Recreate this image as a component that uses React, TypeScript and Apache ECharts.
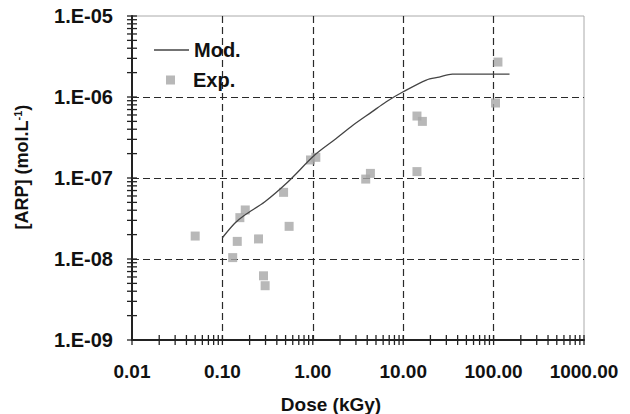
import React, { useEffect, useRef } from 'react';
import * as echarts from 'echarts';

// Model curve (Mod.)
const modDose = [0.1, 0.137, 0.177, 0.295, 0.533, 1.05, 1.8, 2.8, 4.5, 6.5, 10, 18, 25, 35, 150];
const modArp = [1.83e-8, 2.76e-8, 3.49e-8, 5.1e-8, 9.0e-8, 1.92e-7, 3.05e-7, 4.51e-7, 6.55e-7, 8.75e-7, 1.16e-6, 1.62e-6, 1.76e-6, 1.92e-6, 1.92e-6];

// Experimental points (Exp.)
const expDose = [0.05, 0.13, 0.146, 0.156, 0.179, 0.251, 0.285, 0.297, 0.475, 0.547, 0.943, 1.08, 3.85, 4.34, 14.2, 14.2, 16.3, 105, 111.7];
const expArp = [1.92e-8, 1.04e-8, 1.65e-8, 3.24e-8, 4.03e-8, 1.77e-8, 6.2e-9, 4.68e-9, 6.65e-8, 2.53e-8, 1.67e-7, 1.8e-7, 9.7e-8, 1.14e-7, 1.2e-7, 5.82e-7, 5.0e-7, 8.43e-7, 2.7e-6];

// Axis decades and minor tick multipliers
const xDecades = [0.01, 0.1, 1, 10, 100, 1000];
const yDecades = [1e-9, 1e-8, 1e-7, 1e-6, 1e-5];
const minorSteps = [2, 3, 4, 5, 6, 7, 8, 9];

const FONT = '"Liberation Sans", Arial, sans-serif';

function tickValues(decades: number[]) {
  const out: number[] = [];
  decades.forEach((d, i) => {
    out.push(d);
    if (i < decades.length - 1) minorSteps.forEach((m) => out.push(m * d));
  });
  return out;
}

export default function App() {
  const ref = useRef<HTMLDivElement>(null);
  useEffect(() => {
    document.body.style.margin = '0';
    const chart = echarts.init(ref.current!, null, { renderer: 'svg' });
    const xMin = xDecades[0];
    const yMin = yDecades[0];
    const xTicks = tickValues(xDecades);
    const yTicks = tickValues(yDecades);
    const axisLabel = { fontFamily: FONT, fontWeight: 'bold', fontSize: 19, color: '#111' };
    const splitLine = {
      show: true,
      showMinLine: false,
      showMaxLine: false,
      lineStyle: { color: '#2a2a2a', type: [7, 4], width: 1.2 },
    };
    const legendText = { fontFamily: FONT, fontWeight: 'bold', fontSize: 20, color: '#111' };
    chart.setOption({
      animation: false,
      grid: { left: 132, right: 46, top: 16, bottom: 74, show: true, borderColor: '#aaa', borderWidth: 1, backgroundColor: 'transparent' },
      legend: [
        {
          data: [{ name: 'Mod.', icon: 'rect', itemStyle: { color: '#444' } }],
          left: 149, top: 35, itemWidth: 35, itemHeight: 1.6,
          textStyle: legendText,
        },
        {
          data: [{ name: 'Exp.', icon: 'rect' }],
          left: 161, top: 65, itemWidth: 9, itemHeight: 9,
          textStyle: { ...legendText, padding: [0, 0, 0, 13] },
        },
      ],
      xAxis: {
        type: 'log', logBase: 10, min: xDecades[0], max: xDecades[xDecades.length - 1],
        axisLine: { lineStyle: { color: '#222', width: 2 } },
        axisTick: { show: false },
        minorTick: { show: false },
        axisLabel: { ...axisLabel, margin: 22, formatter: (v: number) => v.toFixed(2) },
        splitLine,
      },
      yAxis: {
        type: 'log', logBase: 10, min: yDecades[0], max: yDecades[yDecades.length - 1],
        axisLine: { show: true, lineStyle: { color: '#222', width: 2 } },
        axisTick: { show: false },
        minorTick: { show: false },
        axisLabel: {
          ...axisLabel, fontSize: 20, margin: 19,
          formatter: (v: number) => {
            const e = Math.round(Math.log10(v));
            return '1.E-' + String(-e).padStart(2, '0');
          },
        },
        splitLine,
      },
      graphic: [
        {
          type: 'text', x: 331, y: 404,
          style: { text: 'Dose (kGy)', fontFamily: FONT, fontWeight: 'bold', fontSize: 19, fill: '#111', align: 'center', verticalAlign: 'middle' },
        },
        {
          type: 'text', x: 22, y: 167, rotation: Math.PI / 2,
          style: {
            text: '[ARP] (mol.L{sup|-1})',
            fontFamily: FONT, fontWeight: 'bold', fontSize: 18, fill: '#111', align: 'center', verticalAlign: 'middle',
            rich: { sup: { fontFamily: FONT, fontWeight: 'bold', fontSize: 11, fill: '#111', verticalAlign: 'top', padding: [0, 0, 8, 0] } },
          },
        },
      ],
      series: [
        {
          name: 'Mod.', type: 'line', symbol: 'none', z: 4, smooth: 0.3,
          data: modDose.map((d, i) => [d, modArp[i]]),
          lineStyle: { color: '#444', width: 1.3 },
          itemStyle: { color: '#444' },
        },
        {
          name: 'Exp.', type: 'scatter', symbol: 'rect', symbolSize: 9, z: 3,
          data: expDose.map((d, i) => [d, expArp[i]]),
          itemStyle: { color: '#a6a6a6' },
        },
        {
          name: 'xticks', type: 'custom', silent: true, z: 6,
          data: xTicks.map((v) => [v, yMin]),
          renderItem: (_p: any, api: any) => {
            const p = api.coord([api.value(0), api.value(1)]);
            return { type: 'line', shape: { x1: p[0], y1: p[1] - 5, x2: p[0], y2: p[1] + 5 }, style: { stroke: '#222', lineWidth: 1.3 } };
          },
        },
        {
          name: 'yticks', type: 'custom', silent: true, z: 6,
          data: yTicks.map((v) => [xMin, v]),
          renderItem: (_p: any, api: any) => {
            const p = api.coord([api.value(0), api.value(1)]);
            return { type: 'line', shape: { x1: p[0] - 5, y1: p[1], x2: p[0] + 5, y2: p[1] }, style: { stroke: '#222', lineWidth: 1.3 } };
          },
        },
      ],
    });
    return () => chart.dispose();
  }, []);
  return <div ref={ref} style={{ width: 630, height: 414 }} />;
}
